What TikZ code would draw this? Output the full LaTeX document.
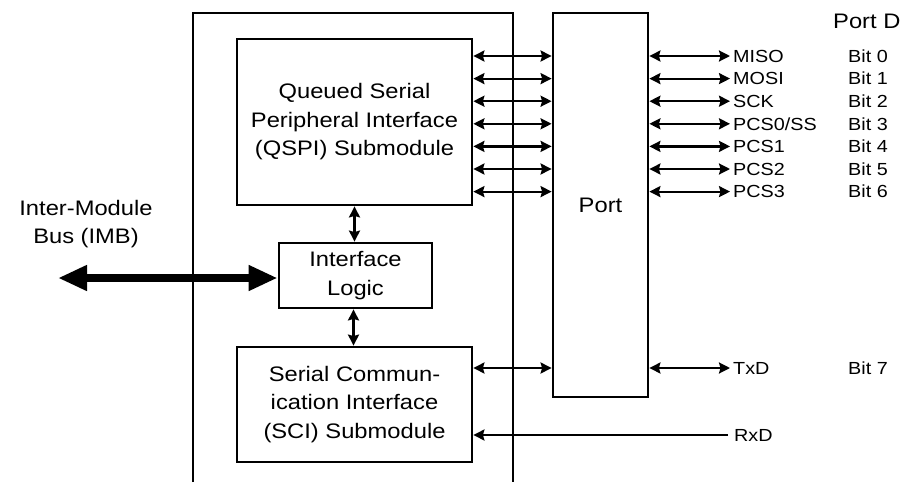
\documentclass[tikz,border=0pt]{standalone}
\usepackage{fontspec}
\setmainfont{Liberation Sans}[FakeStretch=1.13]
\usetikzlibrary{arrows.meta}

\newcommand{\boxfont}{\fontsize{21}{28.5}\selectfont}
\newcommand{\sigfont}{\fontsize{17.5}{20}\selectfont}
\newcommand{\headfont}{\fontsize{21}{24}\selectfont}

\begin{document}
\begin{tikzpicture}[
    x=1pt, y=-1pt,
    box/.style={draw=black, line width=2.8pt, align=center, font=\boxfont, inner sep=0pt},
    sig/.style={anchor=west, font=\sigfont, inner sep=3pt, text height=12.5pt, text depth=0pt},
    biarrow/.style={{Stealth[length=11pt,width=11pt,inset=1.5pt]}-{Stealth[length=11pt,width=11pt,inset=1.5pt]}, line width=2.2pt},
    inarrow/.style={-{Stealth[length=11pt,width=11pt,inset=1.5pt]}, line width=2.2pt},
    busarrow/.style={{Triangle[length=29pt,width=24pt]}-{Triangle[length=29pt,width=24pt]}, line width=8pt}
]
\useasboundingbox[fill=white] (0,0) rectangle (907,482);

% module outline, open at the bottom
\draw[line width=2.8pt] (193,482) -- (193,13) -- (513,13) -- (513,482);

\node[box, minimum width=235pt, minimum height=166pt] (qspi) at (354.5,122) {Queued Serial\\Peripheral Interface\\(QSPI) Submodule};
\node[box, minimum width=153pt, minimum height=65pt] (logic) at (355.5,275.5) {Interface\\Logic};
\node[box, minimum width=235pt, minimum height=115pt] (sci) at (354.5,404.5) {Serial Commun-\\ication Interface\\(SCI) Submodule};
\node[box, minimum width=95pt, minimum height=384pt] (port) at (600.5,205) {Port};

\node[font=\boxfont, align=center] (imb) at (86,224) {Inter-Module\\Bus (IMB)};
\coordinate (busend) at (58,278);
\draw[busarrow] (busend) -- (busend -| logic.west);

\draw[biarrow] (qspi.south) -- (qspi.south |- logic.north);
\draw[biarrow] ([xshift=-2pt]logic.south) -- ([xshift=-2pt]logic.south |- sci.north);

% port D pins
\node[sig, font=\headfont, text height=14pt] (portd) at (830,21) {Port D};
\foreach \sig [count=\i from 0] in {MISO,MOSI,SCK,PCS0/SS,PCS1,PCS2,PCS3} {
    \node[sig] (sig\i) at (730,56+22.6*\i) {\sig};
    \node[sig] (bit\i) at (845,56+22.6*\i) {Bit \i};
    \draw[biarrow] (qspi.east |- sig\i) -- (port.west |- sig\i);
    \draw[biarrow] (port.east |- sig\i) -- (sig\i.west);
}

\node[sig] (txd) at (730,368) {TxD};
\node[sig] (bit7) at (845,368) {Bit 7};
\draw[biarrow] (sci.east |- txd) -- (port.west |- txd);
\draw[biarrow] (port.east |- txd) -- (txd.west);

\node[sig, inner xsep=6pt] (rxd) at (728,435) {RxD};
\draw[inarrow] (rxd.west) -- (rxd -| sci.east);

\end{tikzpicture}
\end{document}
